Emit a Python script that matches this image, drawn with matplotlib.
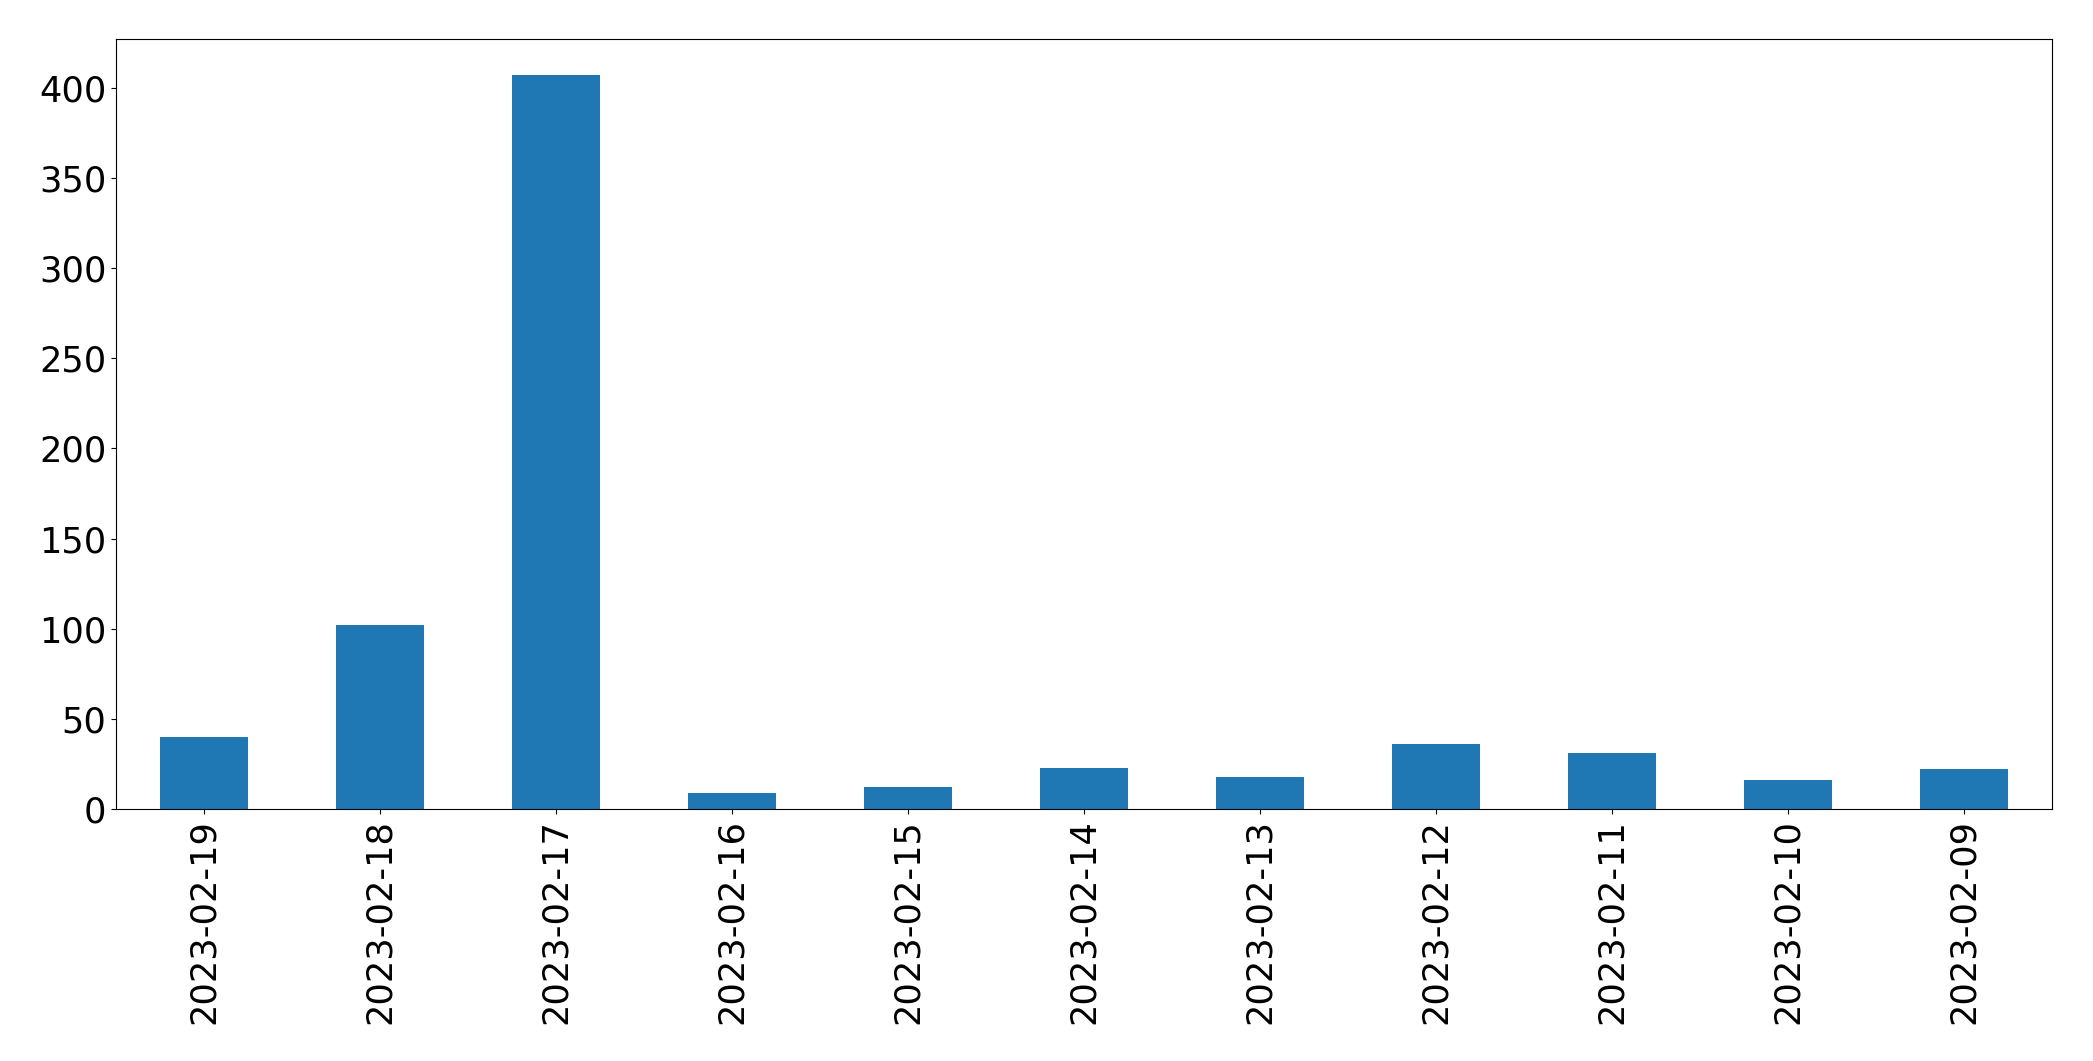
import matplotlib
matplotlib.use("Agg")
from matplotlib import pyplot as plt

dates = ["2023-02-19", "2023-02-18", "2023-02-17", "2023-02-16", "2023-02-15",
         "2023-02-14", "2023-02-13", "2023-02-12", "2023-02-11", "2023-02-10",
         "2023-02-09"]
counts = [40, 102, 407, 9, 12, 23, 18, 36, 31, 16, 22]

fig = plt.figure(figsize=(20.93, 10.61), dpi=100)
ax = fig.add_subplot(111)
pos = range(len(dates))
ax.bar(pos, counts, width=0.5, color="#1f77b4")
ax.set_xticks(list(pos))
ax.set_xticklabels(dates, rotation=90)
ax.set_xlim(-0.5, len(dates) - 0.5)
ax.set_ylim(0, 427)
ax.tick_params(labelsize=25.3)
plt.subplots_adjust(left=0.0555, right=0.9805, top=0.963, bottom=0.2375)

plt.savefig("out.png", dpi=100)
